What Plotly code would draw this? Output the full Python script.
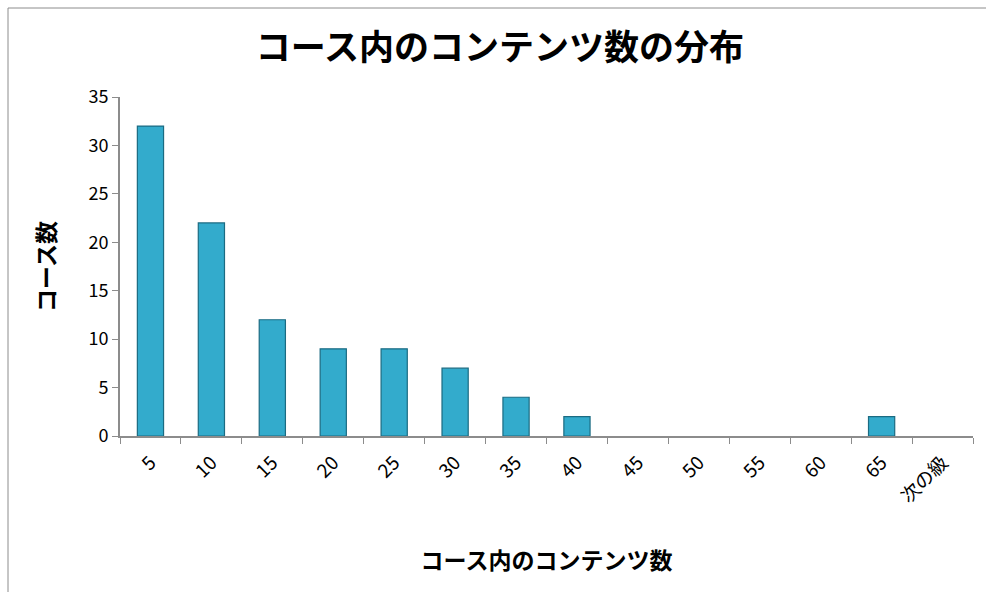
import plotly.graph_objects as go

categories = ["5", "10", "15", "20", "25", "30", "35", "40", "45", "50", "55", "60", "65", "次の級"]
counts = [32, 22, 12, 9, 9, 7, 4, 2, 0, 0, 0, 0, 2, 0]
y_ticks = [0, 5, 10, 15, 20, 25, 30, 35]

FONT = "Noto Sans CJK JP, Noto Sans, sans-serif"

fig = go.Figure()
fig.add_trace(go.Bar(
    x=categories, y=counts,
    marker=dict(color="#33abcc",
                line=dict(color="#1b6b82", width=[1.2 if v > 0 else 0 for v in counts])),
    width=0.43,
    showlegend=False,
))

W, H = 986, 592
L, R, T, B = 120, 13, 97, 156
pw, ph = W - L - R, H - T - B

def px_x(p):
    return (p - L) / pw

def px_y(p):
    return (H - B - p) / ph

fig.update_layout(
    width=W, height=H,
    margin=dict(l=L, r=R, t=T, b=B),
    paper_bgcolor="white", plot_bgcolor="white",
    font=dict(family=FONT, color="black"),
    title=dict(text="<b>コース内のコンテンツ数の分布</b>", x=500 / W, xref="container", xanchor="center",
               y=1 - 48 / H, yref="container", yanchor="middle",
               font=dict(size=35, family=FONT, color="black")),
    bargap=0.57,
    shapes=[dict(type="rect", xref="paper", yref="paper",
                 x0=px_x(8), x1=px_x(1000), y0=px_y(620), y1=px_y(8),
                 line=dict(color="#8c8c8c", width=1), fillcolor="rgba(0,0,0,0)", layer="below")],
)

fig.update_xaxes(
    type="category", showline=True, linecolor="#8c8c8c", linewidth=2,
    ticks="outside", tickson="boundaries", ticklen=6, tickcolor="#8c8c8c", tickwidth=1,
    tickangle=-45, tickfont=dict(size=19, family=FONT), ticklabelstandoff=6,
    showgrid=False, zeroline=False,
    title=dict(text="<b>コース内のコンテンツ数</b>", font=dict(size=23, family=FONT), standoff=46),
)
fig.update_yaxes(
    range=[0, 35], tickvals=y_ticks, showline=True, linecolor="#8c8c8c", linewidth=2,
    ticks="outside", ticklen=6, tickcolor="#8c8c8c", tickwidth=1,
    tickfont=dict(size=18, family=FONT), showgrid=False, zeroline=False,
    title=dict(text="<b>コース数</b>", font=dict(size=23, family=FONT), standoff=26),
)

fig.write_html("out.html")
